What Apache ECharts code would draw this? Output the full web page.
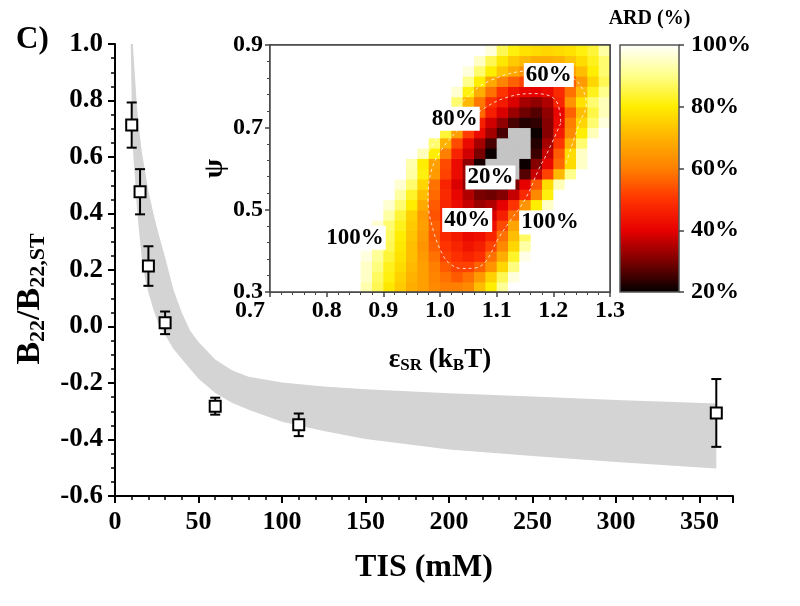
<!DOCTYPE html>
<html><head><meta charset="utf-8">
<script src="https://cdn.jsdelivr.net/npm/echarts@6/dist/echarts.min.js"></script>
<style>html,body{margin:0;padding:0;background:#fff}#c{width:800px;height:606px}</style>
</head><body><div id="c"></div>
<script>
// ---- main chart data ----
const tisValues = [10, 15, 20, 30, 60, 110, 360];
const b22Values = [0.713, 0.477, 0.214, 0.013, -0.282, -0.348, -0.306];
const b22Errors = [0.08, 0.08, 0.07, 0.04, 0.03, 0.04, 0.12];
const bandTIS   = [9.4, 10, 11, 12, 13, 14, 16, 18, 20, 23, 26, 30, 35, 40, 45, 50, 60, 70, 80, 100, 125, 150, 200, 250, 300, 360];
const bandLower = [1.00, 0.80, 0.60, 0.52, 0.43, 0.36, 0.245, 0.17, 0.12, 0.06, 0.01, -0.03, -0.08, -0.115, -0.15, -0.185, -0.235, -0.27, -0.295, -0.337, -0.37, -0.398, -0.435, -0.458, -0.48, -0.503];
const bandUpper = [1.15, 1.08, 0.97, 0.88, 0.79, 0.72, 0.62, 0.55, 0.48, 0.40, 0.33, 0.245, 0.13, 0.05, -0.015, -0.055, -0.117, -0.155, -0.178, -0.198, -0.212, -0.222, -0.236, -0.248, -0.26, -0.273];
const xTicks = [0, 50, 100, 150, 200, 250, 300, 350];

// ---- inset heat map data (ARD %) ----
const epsCenters = [0.71,0.73,0.75,0.77,0.79,0.81,0.83,0.85,0.87,0.89,0.91,0.93,0.95,0.97,0.99,1.01,1.03,1.05,1.07,1.09,1.11,1.13,1.15,1.17,1.19,1.21,1.23,1.25,1.27,1.29];
const psiCenters = [0.3125,0.3375,0.3625,0.3875,0.4125,0.4375,0.4625,0.4875,0.5125,0.5375,0.5625,0.5875,0.6125,0.6375,0.6625,0.6875,0.7125,0.7375,0.7625,0.7875,0.8125,0.8375,0.8625,0.8875];
const ardRows = [
[100,100,100,100,100,100,100,100,93,86,79,74,69,66,62,60,60,62,72,80,91,100,100,100,100,100,100,100,100,100],
[100,100,100,100,100,100,100,100,95,87,81,75,70,66,61,58,55,58,65,75,86,97,100,100,100,100,100,100,100,100],
[100,100,100,100,100,100,100,100,95,89,82,77,71,66,60,55,52,52,56,64,76,89,100,100,100,100,100,100,100,100],
[100,100,100,100,100,100,100,100,97,91,84,78,72,65,58,52,49,47,49,58,69,83,98,100,100,100,100,100,100,100],
[100,100,100,100,100,100,100,100,99,92,86,79,72,64,56,50,47,44,46,52,62,76,92,100,100,100,100,100,100,100],
[100,100,100,100,100,100,100,100,100,94,87,80,73,65,55,48,45,42,43,47,58,72,87,100,100,100,100,100,100,100],
[100,100,100,100,100,100,100,100,100,96,88,82,74,66,56,49,44,41,40,43,53,67,82,95,100,100,100,100,100,100],
[100,100,100,100,100,100,100,100,100,100,92,84,75,65,54,47,42,39,37,39,46,58,74,88,100,100,100,100,100,100],
[100,100,100,100,100,100,100,100,100,100,96,88,80,68,55,47,42,37,33,35,40,50,64,80,95,100,100,100,100,100],
[100,100,100,100,100,100,100,100,100,100,100,92,83,72,57,48,41,35,30,29,31,37,48,62,81,100,100,100,100,100],
[100,100,100,100,100,100,100,100,100,100,100,96,88,76,58,47,39,32,26,22,24,30,40,55,77,94,100,100,100,100],
[100,100,100,100,100,100,100,100,100,100,100,100,92,81,65,52,42,33,23,17,16,19,27,37,52,71,90,100,100,100],
[100,100,100,100,100,100,100,100,100,100,100,100,93,80,66,53,42,32,22,15,11,13,21,31,41,57,77,95,100,100],
[100,100,100,100,100,100,100,100,100,100,100,100,100,94,80,60,47,38,30,21,15,11,16,25,37,55,77,95,100,100],
[100,100,100,100,100,100,100,100,100,100,100,100,100,100,88,70,53,42,34,26,19,13,15,23,34,50,70,88,100,100],
[100,100,100,100,100,100,100,100,100,100,100,100,100,100,100,84,66,51,42,34,26,19,15,21,31,45,62,80,94,100],
[100,100,100,100,100,100,100,100,100,100,100,100,100,100,100,92,76,58,46,38,32,26,23,24,31,42,60,76,88,97],
[100,100,100,100,100,100,100,100,100,100,100,100,100,100,100,99,85,70,57,46,39,33,29,27,32,41,56,72,85,94],
[100,100,100,100,100,100,100,100,100,100,100,100,100,100,100,100,88,71,59,50,45,39,34,32,35,47,64,78,88,94],
[100,100,100,100,100,100,100,100,100,100,100,100,100,100,100,100,96,81,69,58,50,44,41,40,42,48,58,71,82,90],
[100,100,100,100,100,100,100,100,100,100,100,100,100,100,100,100,100,90,80,68,61,56,52,50,50,53,56,65,76,86],
[100,100,100,100,100,100,100,100,100,100,100,100,100,100,100,100,100,97,88,80,73,68,63,62,61,64,67,72,80,88],
[100,100,100,100,100,100,100,100,100,100,100,100,100,100,100,100,100,100,95,86,79,74,71,69,69,70,73,77,82,88],
[100,100,100,100,100,100,100,100,100,100,100,100,100,100,100,100,100,100,100,97,86,81,78,77,76,77,78,81,84,92]
];
const innerContour = [[1.213,0.71],[1.19,0.64],[1.175,0.60],[1.151,0.527],[1.125,0.475],[1.103,0.43],[1.08,0.373],[1.06,0.358],[1.038,0.357],[1.018,0.368],[1.005,0.39],[0.988,0.45],[0.979,0.523],[0.985,0.596],[1.005,0.65],[1.038,0.701],[1.08,0.748],[1.121,0.774],[1.165,0.782],[1.204,0.766],[1.213,0.71]];
const outerContour = [[0.975,0.63],[1.0,0.685],[1.04,0.762],[1.091,0.815],[1.17,0.838],[1.23,0.822],[1.249,0.799],[1.258,0.755],[1.246,0.71],[1.222,0.612]];
const contourLabels = [
  ['60%', 1.192, 0.827], ['80%', 1.026, 0.721], ['20%', 1.089, 0.578],
  ['40%', 1.048, 0.475], ['100%', 0.850, 0.432], ['100%', 1.194, 0.469]
];
const ardTicks = [20, 40, 60, 80, 100];

// ---- styles ----
const F = 'Liberation Serif';
const ardColors = ['#000000','#7a0000','#e60000','#ff3300','#ff8000','#ffb300','#ffee00','#ffff8c','#ffffff'];
const belowColor = '#c4c4c4';
const ardMin = 20;

const heatData = [];
ardRows.forEach((row, r) => row.forEach((v, k) => heatData.push([epsCenters[k], psiCenters[r], v])));
const halfX = (epsCenters[1] - epsCenters[0]) / 2;
const halfY = (psiCenters[1] - psiCenters[0]) / 2;

const chart = echarts.init(document.getElementById('c'), null, {renderer: 'canvas'});
const bold = {fontFamily: F, fontWeight: 'bold', color: '#000'};

const option = {
  animation: false,
  textStyle: {fontFamily: F},
  grid: [
    {left: 115, top: 44, width: 618, height: 452},
    {left: 270, top: 45, width: 340, height: 247, show: true, backgroundColor: '#fff', borderColor: '#444', borderWidth: 1.5},
    {left: 620, top: 45, width: 59, height: 247}
  ],
  visualMap: {
    type: 'continuous', show: false, min: 20, max: 100, dimension: 2, seriesIndex: 3,
    inRange: {color: ardColors}
  },
  xAxis: [
    {gridIndex: 0, type: 'value', min: 0, max: 370, interval: 50,
     name: 'TIS (mM)', nameLocation: 'middle', nameGap: 56,
     nameTextStyle: Object.assign({fontSize: 32}, bold),
     axisLine: {onZero: false, lineStyle: {color: '#000', width: 2}},
     axisTick: {length: 7, lineStyle: {width: 2, color: '#000'}},
     minorTick: {show: true, splitNumber: 5, length: 4, lineStyle: {width: 1.5, color: '#000'}},
     splitLine: {show: false},
     axisLabel: Object.assign({fontSize: 26, margin: 13, showMaxLabel: false,
       formatter: v => xTicks.indexOf(v) >= 0 ? String(v) : ''}, bold)},
    {gridIndex: 1, type: 'value', min: 0.7, max: 1.3, interval: 0.1, z: 10,
     name: '{m|ε}{s|SR}{m| (k}{s|B}{m|T)}', nameLocation: 'middle', nameGap: 52,
     nameTextStyle: {rich: {
       m: {fontFamily: F, fontWeight: 'bold', fontSize: 27, lineHeight: 30, verticalAlign: 'bottom', color: '#000'},
       s: {fontFamily: F, fontWeight: 'bold', fontSize: 17, lineHeight: 14, verticalAlign: 'bottom', color: '#000'}}},
     axisLine: {onZero: false, lineStyle: {color: '#444', width: 1.5}},
     axisTick: {length: 5, lineStyle: {color: '#444', width: 1.5}},
     minorTick: {show: true, splitNumber: 5, length: 3, lineStyle: {color: '#444'}},
     splitLine: {show: false},
     axisLabel: Object.assign({fontSize: 24, margin: 7,
       formatter: v => v < 0.75 ? '{first|' + v.toFixed(1) + '}' : v.toFixed(1),
       rich: {first: {fontFamily: F, fontWeight: 'bold', fontSize: 24, color: '#000', padding: [0, 40, 0, 0]}}}, bold)},
    {gridIndex: 2, type: 'value', min: 0, max: 1, position: 'top',
     name: 'ARD (%)', nameLocation: 'middle', nameGap: 16,
     nameTextStyle: Object.assign({fontSize: 20}, bold),
     axisLine: {show: false, onZero: false}, axisTick: {show: false}, axisLabel: {show: false}, splitLine: {show: false}},
    {gridIndex: 1, type: 'value', min: 0.7, max: 1.3, position: 'top', z: 10,
     axisLine: {onZero: false, lineStyle: {color: '#444', width: 1.5}}, axisTick: {show: false}, axisLabel: {show: false}, splitLine: {show: false}}
  ],
  yAxis: [
    {gridIndex: 0, type: 'value', min: -0.6, max: 1.0, interval: 0.2,
     name: 'B{s|22}/B{s|22,ST}', nameLocation: 'middle', nameGap: 62, nameRotate: 90,
     nameTextStyle: {fontFamily: F, fontWeight: 'bold', fontSize: 34, lineHeight: 38, verticalAlign: 'bottom', color: '#000',
       padding: [0, 58, 0, 0],
       rich: {s: {fontFamily: F, fontWeight: 'bold', fontSize: 22, lineHeight: 16, verticalAlign: 'bottom', color: '#000'}}},
     axisLine: {show: true, onZero: false, lineStyle: {color: '#000', width: 2}},
     axisTick: {show: true, length: 7, lineStyle: {width: 2, color: '#000'}},
     minorTick: {show: true, splitNumber: 4, length: 4, lineStyle: {width: 1.5, color: '#000'}},
     splitLine: {show: false},
     axisLabel: Object.assign({fontSize: 27, margin: 12,
       formatter: v => (Math.abs(v) < 1e-9 ? 0 : v).toFixed(1)}, bold)},
    {gridIndex: 1, type: 'value', min: 0.3, max: 0.9, interval: 0.2, z: 10,
     name: 'ψ', nameLocation: 'middle', nameGap: 38, nameRotate: 90,
     nameTextStyle: Object.assign({fontSize: 28}, bold),
     axisLine: {show: true, onZero: false, lineStyle: {color: '#444', width: 1.5}},
     axisTick: {show: true, length: 5, lineStyle: {color: '#444', width: 1.5}},
     minorTick: {show: true, splitNumber: 5, length: 3, lineStyle: {color: '#444'}},
     splitLine: {show: false},
     axisLabel: Object.assign({fontSize: 24, margin: 7, formatter: v => v.toFixed(1)}, bold)},
    {gridIndex: 2, type: 'value', min: 20, max: 100, interval: 20, position: 'right', z: 10,
     axisLine: {show: false, onZero: false},
     axisTick: {show: true, length: 5, lineStyle: {color: '#444', width: 1.5}},
     splitLine: {show: false},
     axisLabel: Object.assign({fontSize: 24, margin: 12, formatter: v => ardTicks.indexOf(v) >= 0 ? v + '%' : ''}, bold)},
    {gridIndex: 1, type: 'value', min: 0.3, max: 0.9, position: 'right', z: 10,
     axisLine: {show: true, onZero: false, lineStyle: {color: '#444', width: 1.5}}, axisTick: {show: false}, axisLabel: {show: false}, splitLine: {show: false}}
  ],
  graphic: [
    {type: 'text', left: 16, top: 24, style: {text: 'C)', font: 'bold 31px "Liberation Serif"', fill: '#000'}}
  ],
  series: [
    { // 0 model band
      type: 'custom', xAxisIndex: 0, yAxisIndex: 0, clip: true, z: 1, data: [[0]],
      renderItem: (params, api) => {
        const pts = [];
        for (let i = 0; i < bandTIS.length; i++) pts.push(api.coord([bandTIS[i], bandUpper[i]]));
        for (let i = bandTIS.length - 1; i >= 0; i--) pts.push(api.coord([bandTIS[i], bandLower[i]]));
        return {type: 'polygon', shape: {points: pts}, style: {fill: '#d4d4d4'}};
      }
    },
    { // 1 error bars
      type: 'custom', xAxisIndex: 0, yAxisIndex: 0, z: 3,
      data: tisValues.map((t, i) => [t, b22Values[i], b22Errors[i]]),
      renderItem: (params, api) => {
        const x = api.value(0), y = api.value(1), e = api.value(2);
        const t = api.coord([x, y + e]), b = api.coord([x, y - e]);
        const w = 5, st = {stroke: '#000', lineWidth: 2};
        return {type: 'group', children: [
          {type: 'line', shape: {x1: t[0], y1: t[1], x2: b[0], y2: b[1]}, style: st},
          {type: 'line', shape: {x1: t[0] - w, y1: t[1], x2: t[0] + w, y2: t[1]}, style: st},
          {type: 'line', shape: {x1: b[0] - w, y1: b[1], x2: b[0] + w, y2: b[1]}, style: st}
        ]};
      }
    },
    { // 2 markers
      type: 'scatter', xAxisIndex: 0, yAxisIndex: 0, z: 4, symbol: 'rect', symbolSize: 11,
      itemStyle: {color: '#fff', borderColor: '#000', borderWidth: 2, opacity: 1},
      data: tisValues.map((t, i) => [t, b22Values[i]])
    },
    { // 3 heat map
      type: 'custom', xAxisIndex: 1, yAxisIndex: 1, clip: true, z: 2, data: heatData,
      encode: {x: 0, y: 1},
      renderItem: (params, api) => {
        const x = api.value(0), y = api.value(1), v = api.value(2);
        const p0 = api.coord([x - halfX, y + halfY]);
        const p1 = api.coord([x + halfX, y - halfY]);
        return {type: 'rect', shape: {x: p0[0], y: p0[1], width: p1[0] - p0[0] + 0.7, height: p1[1] - p0[1] + 0.7},
                style: {fill: v < ardMin ? belowColor : api.visual('color')}};
      }
    },
    { // 4 inner dashed contour
      type: 'line', xAxisIndex: 1, yAxisIndex: 1, z: 5, data: innerContour, smooth: 0.4,
      showSymbol: false, symbol: 'none',
      lineStyle: {color: 'rgba(255,255,255,0.8)', width: 1, type: [3, 3]}
    },
    { // 5 outer dashed contour
      type: 'line', xAxisIndex: 1, yAxisIndex: 1, z: 5, data: outerContour, smooth: 0.4,
      showSymbol: false, symbol: 'none',
      lineStyle: {color: 'rgba(255,255,255,0.8)', width: 1, type: [3, 3]}
    },
    { // 6 contour labels
      type: 'scatter', xAxisIndex: 1, yAxisIndex: 1, z: 8, symbolSize: 2,
      itemStyle: {color: 'rgba(0,0,0,0)', opacity: 1},
      emphasis: {disabled: true},
      data: contourLabels.map(c => ({value: [c[1], c[2]], name: c[0]})),
      label: {show: true, position: 'inside', formatter: p => p.name, opacity: 1,
        fontFamily: F, fontWeight: 'bold', fontSize: 23, color: '#000',
        backgroundColor: '#fff', padding: [1, 2, 0, 2]}
    },
    { // 7 colour bar
      type: 'custom', xAxisIndex: 2, yAxisIndex: 2, z: 2, data: [[0]],
      renderItem: (params, api) => {
        const a = api.coord([0, 100]), b = api.coord([1, 20]);
        const n = ardColors.length - 1;
        const stops = ardColors.map((c, i) => ({offset: 1 - i / n, color: c})).reverse();
        return {type: 'rect', shape: {x: a[0], y: a[1], width: b[0] - a[0], height: b[1] - a[1]},
                style: {fill: new echarts.graphic.LinearGradient(0, 0, 0, 1, stops), stroke: '#555', lineWidth: 1.5}};
      }
    }
  ]
};
chart.setOption(option);
</script></body></html>
